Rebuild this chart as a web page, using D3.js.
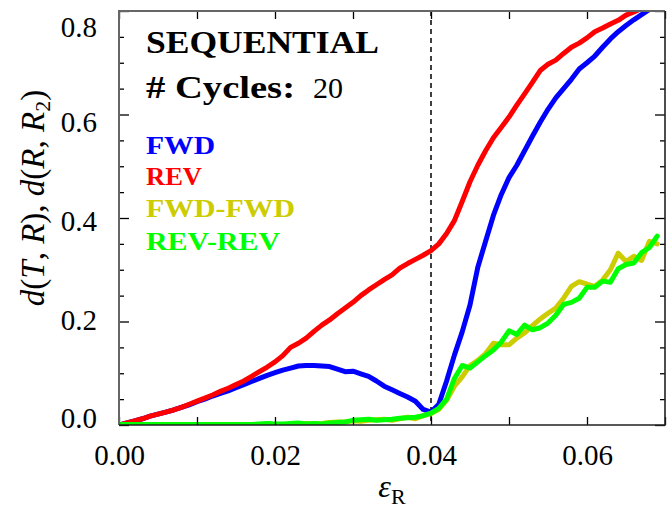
<!DOCTYPE html>
<html>
<head>
<meta charset="utf-8">
<script src="https://cdn.jsdelivr.net/npm/d3@7/dist/d3.min.js"></script>
<style>
html,body{margin:0;padding:0;background:#fff;}
svg{display:block;}
text{font-family:"Liberation Serif","DejaVu Serif",serif;}
</style>
</head>
<body>
<svg id="chart" width="672" height="510"></svg>
<script>
// ---------- data ----------
const eps = [0.000,0.001,0.002,0.003,0.004,0.005,0.006,0.007,0.008,0.009,
             0.010,0.011,0.012,0.013,0.014,0.015,0.016,0.017,0.018,0.019,
             0.020,0.021,0.022,0.023,0.024,0.025,0.026,0.027,0.028,0.029,
             0.030,0.031,0.032,0.033,0.034,0.035,0.036,0.037,0.038,0.039,
             0.040,0.041,0.042,0.043,0.044,0.045,0.046,0.047,0.048,0.049,
             0.050,0.051,0.052,0.053,0.054,0.055,0.056,0.057,0.058,0.059,
             0.060,0.061,0.062,0.063,0.064,0.065,0.066,0.067,0.068,0.069];

const fwd = [0.000,0.004,0.008,0.012,0.017,0.021,0.025,0.029,0.034,0.039,
             0.045,0.050,0.056,0.061,0.066,0.072,0.078,0.084,0.090,0.096,
             0.101,0.106,0.110,0.114,0.115,0.115,0.114,0.113,0.108,0.103,
             0.104,0.099,0.094,0.085,0.075,0.068,0.061,0.054,0.046,0.030,
             0.025,0.040,0.085,0.135,0.180,0.232,0.305,0.355,0.405,0.445,
             0.478,0.502,0.530,0.558,0.585,0.610,0.632,0.650,0.668,0.688,
             0.700,0.713,0.730,0.746,0.760,0.772,0.783,0.793,0.803];

const rev = [0.000,0.004,0.008,0.012,0.017,0.021,0.025,0.029,0.034,0.040,
             0.046,0.052,0.058,0.065,0.071,0.078,0.085,0.094,0.103,0.112,
             0.122,0.134,0.150,0.158,0.168,0.181,0.193,0.203,0.215,0.226,
             0.237,0.250,0.261,0.271,0.281,0.290,0.303,0.312,0.320,0.328,
             0.337,0.350,0.370,0.395,0.432,0.470,0.502,0.530,0.555,0.575,
             0.595,0.618,0.640,0.662,0.685,0.697,0.705,0.718,0.730,0.738,
             0.748,0.760,0.767,0.775,0.782,0.792,0.798,0.805];

const fwdfwd = [0.000,0.000,0.000,0.000,0.000,0.000,0.000,0.000,0.000,0.000,
                0.000,0.000,0.000,0.000,0.000,0.000,0.000,0.001,0.001,0.001,
                0.001,0.001,0.000,0.001,0.003,0.002,0.003,0.005,0.006,0.006,
                0.008,0.007,0.009,0.010,0.011,0.009,0.012,0.015,0.012,0.018,
                0.022,0.030,0.048,0.075,0.093,0.115,0.125,0.138,0.158,0.155,
                0.155,0.168,0.178,0.192,0.205,0.216,0.226,0.245,0.268,0.277,
                0.272,0.268,0.280,0.300,0.332,0.316,0.326,0.318,0.355,0.350];

const revrev = [0.001,0.001,0.001,0.001,0.001,0.001,0.001,0.001,0.001,0.001,
                0.001,0.001,0.001,0.001,0.001,0.001,0.001,0.001,0.002,0.003,
                0.002,0.002,0.003,0.004,0.002,0.003,0.002,0.004,0.005,0.006,
                0.009,0.010,0.011,0.009,0.010,0.011,0.013,0.014,0.015,0.018,
                0.023,0.032,0.050,0.090,0.115,0.110,0.122,0.134,0.145,0.160,
                0.182,0.175,0.193,0.184,0.188,0.197,0.212,0.233,0.237,0.245,
                0.266,0.266,0.278,0.276,0.302,0.310,0.313,0.333,0.343,0.365];

const seriesNames  = ["FWD", "REV", "FWD-FWD", "REV-REV"];
const seriesValues = [fwd, rev, fwdfwd, revrev];
const seriesColors = ["#0000ff", "#ff0000", "#cccc00", "#00ff00"];

const xTickLabels = [0.00, 0.02, 0.04, 0.06];
const xMinorTicks = [0.01, 0.03, 0.05, 0.07];
const yTickLabels = [0.0, 0.2, 0.4, 0.6, 0.8];
const yMinorTicks = [0.05,0.10,0.15,0.25,0.30,0.35,0.45,0.50,0.55,0.65,0.70,0.75];
const transitionX = 0.04;

// ---------- layout ----------
const L = 119, R = 665, T = 11, B = 425;
const FONT = '"Liberation Serif","DejaVu Serif",serif';
// vertical nudges of the y tick labels (pixels), as placed in the reference
const yLabelNudge = {"0.0": -7, "0.2": -1, "0.4": 3, "0.6": 8, "0.8": 16};

const svg = d3.select("#chart");
const x = d3.scaleLinear().domain([0, 0.07]).range([L, R]);
const y = d3.scaleLinear().domain([0, 0.8]).range([B, T]);

svg.append("defs").append("clipPath").attr("id","clip")
  .append("rect").attr("x", L).attr("y", T).attr("width", R - L).attr("height", B - T);

// dashed vertical line
svg.append("line")
  .attr("x1", x(transitionX)).attr("x2", x(transitionX))
  .attr("y1", y(0.8)).attr("y2", y(0))
  .attr("stroke", "#000").attr("stroke-width", 1.5)
  .attr("stroke-dasharray", "5,4");

// lines
const line = d3.line().x(d => x(d[0])).y(d => y(d[1]));
const g = svg.append("g").attr("clip-path", "url(#clip)");
seriesValues.forEach((vals, i) => {
  const pts = vals.map((v, j) => [eps[j], v]);
  g.append("path").datum(pts)
    .attr("d", line)
    .attr("fill", "none")
    .attr("stroke", seriesColors[i])
    .attr("stroke-width", 5)
    .attr("stroke-linejoin", "round")
    .attr("stroke-linecap", "round");
});

// axes
const axStyle = sel => {
  sel.select(".domain").remove();
  sel.selectAll(".tick line").attr("stroke", "#000").attr("stroke-width", 1.3);
};
const allX = xTickLabels.concat(xMinorTicks);
svg.append("g").attr("transform", `translate(0,${B})`)
  .call(d3.axisBottom(x).tickValues(xTickLabels).tickSize(-8).tickPadding(19)
        .tickFormat(d3.format(".2f")))
  .call(axStyle)
  .call(s => s.selectAll("text").style("font-family", FONT).style("font-size", "29px")
        .attr("fill", "#000").attr("dy", "0.71em"));
svg.append("g").attr("transform", `translate(0,${B})`)
  .call(d3.axisBottom(x).tickValues(xMinorTicks).tickSize(-8).tickFormat(""))
  .call(axStyle);
svg.append("g").attr("transform", `translate(0,${T})`)
  .call(d3.axisTop(x).tickValues(allX).tickSize(-8).tickFormat(""))
  .call(axStyle);

const fmtY = d3.format(".1f");
svg.append("g").attr("transform", `translate(${L},0)`)
  .call(d3.axisLeft(y).tickValues(yTickLabels).tickSize(-10).tickPadding(22)
        .tickFormat(fmtY))
  .call(axStyle)
  .call(s => s.selectAll("text").style("font-family", FONT).style("font-size", "29px")
        .attr("fill", "#000")
        .attr("y", d => yLabelNudge[fmtY(d)]));
svg.append("g").attr("transform", `translate(${L},0)`)
  .call(d3.axisLeft(y).tickValues(yMinorTicks).tickSize(-5).tickFormat(""))
  .call(axStyle);
svg.append("g").attr("transform", `translate(${R},0)`)
  .call(d3.axisRight(y).tickValues(yTickLabels).tickSize(-10).tickFormat(""))
  .call(axStyle);
svg.append("g").attr("transform", `translate(${R},0)`)
  .call(d3.axisRight(y).tickValues(yMinorTicks).tickSize(-5).tickFormat(""))
  .call(axStyle);

// frame
svg.append("path")
  .attr("d", `M${L},${B}V${T}H${R}`)
  .attr("fill", "none").attr("stroke", "#666").attr("stroke-width", 2);
svg.append("path")
  .attr("d", `M${L},${B}H${R}V${T}`)
  .attr("fill", "none").attr("stroke", "#222").attr("stroke-width", 1.6);

// title texts
svg.append("text").attr("x", 146).attr("y", 53)
  .style("font-family", FONT).style("font-size", "31px").style("font-weight", "bold")
  .attr("textLength", 233).attr("lengthAdjust", "spacingAndGlyphs")
  .text("SEQUENTIAL");
svg.append("text").attr("x", 146).attr("y", 98)
  .style("font-family", FONT).style("font-size", "31px").style("font-weight", "bold")
  .attr("textLength", 149).attr("lengthAdjust", "spacingAndGlyphs")
  .text("# Cycles:");
svg.append("text").attr("x", 313).attr("y", 98)
  .style("font-family", FONT).style("font-size", "30px")
  .text("20");

// legend
const legendY = [154, 185, 217, 250];
const legendW = [69, 56, 149, 134];
seriesNames.forEach((n, i) => {
  svg.append("text").attr("x", 146).attr("y", legendY[i])
    .style("font-family", FONT).style("font-size", "26px").style("font-weight", "bold")
    .style("fill", seriesColors[i])
    .attr("textLength", legendW[i]).attr("lengthAdjust", "spacingAndGlyphs")
    .text(n);
});

// y label
const yl = svg.append("text")
  .attr("transform", "translate(44,198) rotate(-90)")
  .attr("text-anchor", "middle")
  .style("font-family", FONT).style("font-size", "33px");
yl.append("tspan").style("font-style", "italic").text("d");
yl.append("tspan").text("(");
yl.append("tspan").style("font-style", "italic").text("T");
yl.append("tspan").text(", ");
yl.append("tspan").style("font-style", "italic").text("R");
yl.append("tspan").text("), ");
yl.append("tspan").style("font-style", "italic").text("d");
yl.append("tspan").text("(");
yl.append("tspan").style("font-style", "italic").text("R");
yl.append("tspan").text(", ");
yl.append("tspan").style("font-style", "italic").text("R");
yl.append("tspan").style("font-size", "22px").attr("dy", 6).text("2");
yl.append("tspan").attr("dy", -6).text(")");

// x label
const xl = svg.append("text").attr("x", 392).attr("y", 497)
  .attr("text-anchor", "middle")
  .style("font-family", FONT).style("font-size", "32px");
xl.append("tspan").style("font-style", "italic").text("ε");
xl.append("tspan").style("font-size", "22px").attr("dy", 7).text("R");
</script>
</body>
</html>
